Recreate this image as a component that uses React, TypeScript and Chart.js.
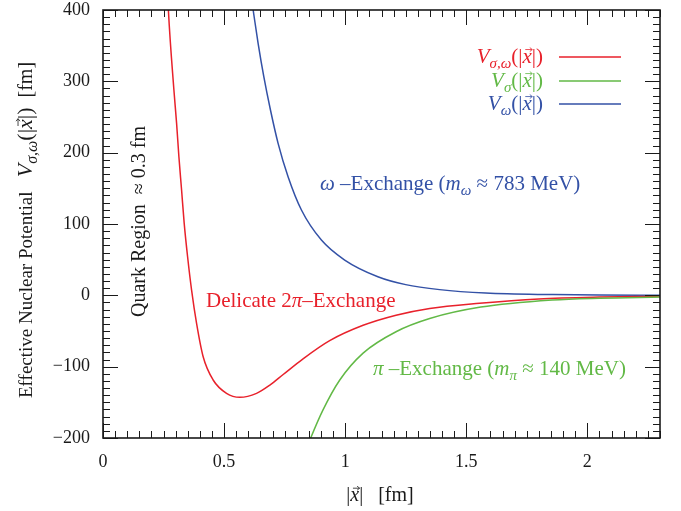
import React, { useEffect, useRef } from "react";
import { Chart, registerables } from "chart.js";

Chart.register(...registerables);

// ---- data ----
const redX = [0.25, 0.27, 0.2928, 0.3039, 0.3134, 0.3245, 0.3353, 0.3493, 0.3658, 0.3864, 0.4136, 0.4548, 0.5101, 0.565, 0.634, 0.689, 0.744, 0.826, 0.936, 1.074, 1.21, 1.349, 1.555, 1.8, 2.05, 2.3];
const redY = [560, 400, 287.8, 241.1, 194.3, 147.6, 100.9, 54.1, 7.4, -39.3, -86.1, -118.7, -137.4, -143, -137.4, -125.8, -111, -89, -63.5, -42, -27.8, -18.3, -11, -5, -2.5, -1.5];

const greenX = [0.83, 0.854, 0.908, 0.977, 1.074, 1.21, 1.349, 1.56, 1.856, 2.05, 2.3];
const greenY = [-224, -203, -161, -119, -81, -51, -32.5, -16.5, -6.5, -4, -2.5];

const blueX = [0.6, 0.62, 0.6405, 0.664, 0.6915, 0.723, 0.7642, 0.8194, 0.9018, 0.998, 1.135, 1.25, 1.39, 1.58, 1.856, 2.05, 2.3];
const blueY = [445, 400, 353.3, 306.5, 259.8, 213.1, 166.3, 119.6, 77.5, 49.5, 26.1, 15, 8, 3.2, 1.0, 0.3, 0];

const xTickValues = [0, 0.5, 1, 1.5, 2];
const xTickLabels = ["0", "0.5", "1", "1.5", "2"];
const yTickValues = [-200, -100, 0, 100, 200, 300, 400];
const yTickLabels = ["\u2212200", "\u2212100", "0", "100", "200", "300", "400"];

const RED = "#e8212b";
const GREEN = "#62b946";
const BLUE = "#3351a6";
const INK = "#1a1a1a";
const FONT = '"Liberation Serif", "DejaVu Serif", serif';

type Seg = { t: string; it?: boolean; sub?: boolean; vec?: boolean; k?: number };

function drawRich(
  ctx: CanvasRenderingContext2D,
  segs: Seg[],
  x: number,
  y: number,
  size: number,
  color: string,
  align: "left" | "right" | "center",
  rotate = false
) {
  ctx.save();
  ctx.translate(x, y);
  if (rotate) ctx.rotate(-Math.PI / 2);
  const szOf = (s: Seg) => size * (s.k ?? 1);
  const fontFor = (s: Seg) =>
    `${s.it ? "italic " : ""}${s.sub ? Math.round(szOf(s) * 0.72) : Math.round(szOf(s))}px ${FONT}`;
  let total = 0;
  const widths = segs.map((s) => {
    ctx.font = fontFor(s);
    const w = ctx.measureText(s.t).width;
    total += w;
    return w;
  });
  let cx = align === "left" ? 0 : align === "right" ? -total : -total / 2;
  ctx.fillStyle = color;
  ctx.strokeStyle = color;
  ctx.textBaseline = "alphabetic";
  ctx.textAlign = "left";
  segs.forEach((s, i) => {
    ctx.font = fontFor(s);
    const sz = szOf(s);
    const dy = s.sub ? sz * 0.22 : 0;
    ctx.fillText(s.t, cx, dy);
    if (s.vec) {
      const w = widths[i];
      const ay = -sz * 0.64;
      const x0 = cx + w * 0.3;
      const x1 = cx + w * 1.05;
      ctx.lineWidth = 0.8;
      ctx.beginPath();
      ctx.moveTo(x0, ay);
      ctx.lineTo(x1, ay);
      ctx.moveTo(x1 - 2.5, ay - 2);
      ctx.lineTo(x1, ay);
      ctx.lineTo(x1 - 2.5, ay + 2);
      ctx.stroke();
    }
    cx += widths[i];
  });
  ctx.restore();
}

const vSegs = (sub: string, k = 1): Seg[] => [
  { t: "V", it: true, k },
  { t: sub, it: true, sub: true, k },
  { t: "(|", k },
  { t: "x", it: true, vec: true, k },
  { t: "|)", k },
];

const framePlugin = {
  id: "frameTicks",
  afterDatasetsDraw(chart: any) {
    const ctx: CanvasRenderingContext2D = chart.ctx;
    const { left, right, top, bottom } = chart.chartArea;
    const xs = chart.scales.x;
    const ys = chart.scales.y;
    ctx.save();
    ctx.strokeStyle = INK;
    ctx.lineWidth = 1;
    ctx.beginPath();
    for (let i = 0; i <= 46; i++) {
      const v = i * 0.05;
      const px = Math.round(xs.getPixelForValue(v)) + 0.5;
      const len = i % 10 === 0 ? 15 : 7;
      ctx.moveTo(px, bottom);
      ctx.lineTo(px, bottom - len);
      ctx.moveTo(px, top);
      ctx.lineTo(px, top + len);
    }
    for (let i = -20; i <= 40; i++) {
      const v = i * 10;
      const py = Math.round(ys.getPixelForValue(v)) + 0.5;
      const len = i % 10 === 0 ? 15 : 7;
      ctx.moveTo(left, py);
      ctx.lineTo(left + len, py);
      ctx.moveTo(right, py);
      ctx.lineTo(right - len, py);
    }
    ctx.stroke();
    ctx.lineWidth = 1.6;
    ctx.strokeRect(left, top, right - left, bottom - top);

    // legend
    const legend: [Seg[], string, number][] = [
      [vSegs("\u03c3,\u03c9"), RED, 57],
      [vSegs("\u03c3"), GREEN, 81],
      [vSegs("\u03c9"), BLUE, 104],
    ];
    legend.forEach(([segs, col, cy]) => {
      drawRich(ctx, segs, 543, cy + 6, 21, col, "right");
      ctx.strokeStyle = col;
      ctx.lineWidth = 1.5;
      ctx.beginPath();
      ctx.moveTo(559, cy);
      ctx.lineTo(621, cy);
      ctx.stroke();
    });

    // annotations
    drawRich(ctx, [{ t: "\u03c9", it: true }, { t: " \u2013Exchange (" }, { t: "m", it: true }, { t: "\u03c9", it: true, sub: true }, { t: " \u2248 783 MeV)" }], 320, 190, 21, BLUE, "left");
    drawRich(ctx, [{ t: "Delicate 2" }, { t: "\u03c0", it: true }, { t: "\u2013Exchange" }], 206, 307, 21, RED, "left");
    drawRich(ctx, [{ t: "\u03c0", it: true }, { t: " \u2013Exchange (" }, { t: "m", it: true }, { t: "\u03c0", it: true, sub: true }, { t: " \u2248 140 MeV)" }], 373, 375, 21, GREEN, "left");
    drawRich(ctx, [{ t: "Quark Region  \u2248 0.3 fm" }], 145, 317, 20, INK, "left", true);

    // axis titles
    drawRich(
      ctx,
      [{ t: "Effective Nuclear Potential   " }, ...vSegs("\u03c3,\u03c9", 1.15), { t: "  [fm]", k: 1.05 }],
      32, 398, 19, INK, "left", true
    );
    drawRich(ctx, [{ t: "|" }, { t: "x", it: true, vec: true }, { t: "|   [fm]" }], 380, 501, 20, INK, "center");
    ctx.restore();
  },
};

export default function App() {
  const ref = useRef<HTMLCanvasElement | null>(null);
  useEffect(() => {
    document.body.style.margin = "0";
    const canvas = ref.current!;
    const mk = (xs: number[], ys: number[]) => xs.map((x, i) => ({ x, y: ys[i] }));
    const line = (data: any, color: string) => ({
      data,
      borderColor: color,
      backgroundColor: color,
      borderWidth: 1.5,
      pointRadius: 0,
      showLine: true,
      fill: false,
      cubicInterpolationMode: "monotone" as const,
    });
    const tickFont = { family: FONT, size: 18 };
    const chart = new Chart(canvas, {
      type: "scatter",
      data: {
        datasets: [
          line(mk(greenX, greenY), GREEN),
          line(mk(redX, redY), RED),
          line(mk(blueX, blueY), BLUE),
        ],
      },
      options: {
        animation: false,
        responsive: false,
        layout: { padding: { top: 10, right: 21, left: 0, bottom: 0 } },
        plugins: { legend: { display: false }, tooltip: { enabled: false } },
        scales: {
          x: {
            type: "linear",
            min: 0,
            max: 2.3,
            grid: { display: false, drawTicks: false },
            border: { display: false },
            afterBuildTicks: (s: any) => {
              s.ticks = xTickValues.map((v) => ({ value: v }));
            },
            afterFit: (s: any) => {
              s.height = 73;
              s.paddingLeft = 0;
              s.paddingRight = 0;
            },
            ticks: {
              autoSkip: false,
              maxRotation: 0,
              padding: 13,
              color: INK,
              font: tickFont,
              callback: (v: any) => xTickLabels[xTickValues.indexOf(Number(v))] ?? "",
            },
          },
          y: {
            type: "linear",
            min: -200,
            max: 400,
            grid: { display: false, drawTicks: false },
            border: { display: false },
            afterBuildTicks: (s: any) => {
              s.ticks = yTickValues.map((v) => ({ value: v }));
            },
            afterFit: (s: any) => {
              s.width = 103;
              s.paddingTop = 0;
              s.paddingBottom = 0;
            },
            ticks: {
              autoSkip: false,
              padding: 13,
              color: INK,
              font: tickFont,
              callback: (v: any) => yTickLabels[yTickValues.indexOf(Number(v))] ?? "",
            },
          },
        },
      },
      plugins: [framePlugin],
    });
    return () => chart.destroy();
  }, []);
  return <canvas ref={ref} width={681} height={511} style={{ display: "block" }} />;
}
